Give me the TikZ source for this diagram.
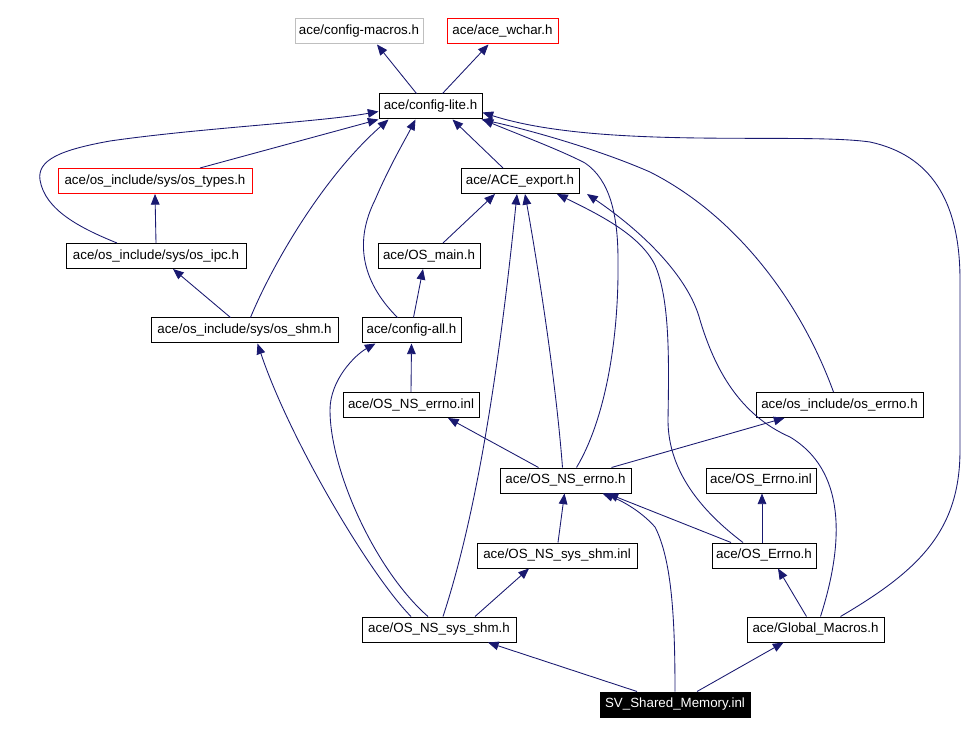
\documentclass[tikz,border=0pt]{standalone}
\usepackage{fontspec}
\setmainfont{Liberation Sans}
\usepackage{xcolor}
\usepackage{tikz}
\usetikzlibrary{arrows.meta,calc}
\definecolor{midblue}{HTML}{191970}
\definecolor{boxgray}{HTML}{BFBFBF}

\begin{document}
\begin{tikzpicture}[x=0.75pt,y=-0.75pt,
    hdr/.style={draw=black, line width=0.75pt, fill=white, rectangle,
        font=\fontsize{10}{12}\selectfont, minimum height=18.75pt, inner xsep=2pt,
        text height=7.4pt, text depth=2.2pt},
    edge/.style={draw=midblue, line width=0.65pt, -{Triangle[length=8pt,width=6.5pt]}}]
\useasboundingbox (0,0) rectangle (979,734);
% TOP ROWS: config headers
\node[hdr, draw=boxgray, minimum width=96pt] (cmacros) at (359,31.5) {ace/config-macros.h};
\node[hdr, draw=red, minimum width=83.25pt] (wchar) at (502.5,31.5) {ace/ace\_wchar.h};
\node[hdr, minimum width=77.25pt] (clite) at (430.5,106.5) {ace/config-lite.h};
\node[hdr, draw=red, minimum width=145.5pt] (ostypes) at (155,181) {ace/os\_include/sys/os\_types.h};
\node[hdr, minimum width=88.5pt] (aceexport) at (520,181) {ace/ACE\_export.h};
\node[hdr, minimum width=135pt] (osipc) at (156,256) {ace/os\_include/sys/os\_ipc.h};
\node[hdr, minimum width=76.5pt] (osmain) at (429,256) {ace/OS\_main.h};
\node[hdr, minimum width=140.25pt] (osshm) at (244.5,330.5) {ace/os\_include/sys/os\_shm.h};
\node[hdr, minimum width=74.25pt] (configall) at (411.5,330.5) {ace/config-all.h};
% MIDDLE ROWS: errno headers
\node[hdr, minimum width=102pt] (nserrnoinl) at (411,405) {ace/OS\_NS\_errno.inl};
\node[hdr, minimum width=125.25pt] (oserrnoh) at (839.5,405) {ace/os\_include/os\_errno.h};
\node[hdr, minimum width=98.25pt] (nserrnoh) at (565.5,480.5) {ace/OS\_NS\_errno.h};
\node[hdr, minimum width=82.5pt] (errnoinl) at (761,480.5) {ace/OS\_Errno.inl};
\node[hdr, minimum width=120pt] (shminl) at (557,555.5) {ace/OS\_NS\_sys\_shm.inl};
\node[hdr, minimum width=78pt] (errnoh) at (764,555.5) {ace/OS\_Errno.h};
% BOTTOM ROWS
\node[hdr, minimum width=115.5pt] (shmh) at (439,629.5) {ace/OS\_NS\_sys\_shm.h};
\node[hdr, minimum width=102.75pt] (globalm) at (815.5,629.5) {ace/Global\_Macros.h};
\node[hdr, fill=black, text=white, minimum width=112.5pt] (sv) at (675,704.5) {SV\_Shared\_Memory.inl};

% edges into config-lite.h and above
\draw[edge] ($(clite.north)+(-14,0)$) -- ($(cmacros.south)+(18,0)$);
\draw[edge] ($(clite.north)+(12,0)$) -- ($(wchar.south)+(-14,0)$);
\draw[edge] ($(ostypes.north)+(45,0)$) -- (clite.south west);
\draw[edge] ($(osipc.north)+(-39,0)$) .. controls (80,228) and (45,210) .. (40,180)
    .. controls (37,160) and (60,150) .. (110,141)
    .. controls (200,128) and (320,122) .. ($(clite.west)+(0,5)$);
\draw[edge] (osipc.north) -- (ostypes.south);
\draw[edge] ($(osshm.north)+(-14,0)$) -- ($(osipc.south)+(17,0)$);
\draw[edge] ($(osshm.north)+(6,0)$) .. controls (270,270) and (320,180) .. ($(clite.south west)+(10,0)$);
\draw[edge] ($(configall.north)+(-14,0)$) .. controls (360,280) and (355,240) .. (375,200)
    .. controls (390,165) and (405,140) .. ($(clite.south)+(-15,0)$);
\draw[edge] ($(configall.north)+(2,0)$) -- ($(osmain.south)+(-6,0)$);
\draw[edge] ($(aceexport.north)+(-17,0)$) -- ($(clite.south)+(22,0)$);
\draw[edge] ($(osmain.north)+(14,0)$) -- ($(aceexport.south)+(-25,0)$);
\draw[edge] (nserrnoinl.north) -- (configall.south);
% edges from OS_NS_sys_shm.h
\draw[edge] ($(shmh.north)+(-11,0)$) .. controls (375,570) and (330,470) .. (330,410)
    .. controls (330,380) and (355,355) .. ($(configall.south)+(-36,0)$);
\draw[edge] ($(shmh.north)+(-28,0)$) .. controls (370,575) and (290,440) .. ($(osshm.south)+(13,0)$);
\draw[edge] ($(shmh.north)+(4,0)$) .. controls (478,510) and (500,360) .. ($(aceexport.south)+(-3,0)$);
\draw[edge] ($(shmh.north)+(36,0)$) -- ($(shminl.south)+(-28,0)$);
\draw[edge] ($(shminl.north)+(1,0)$) -- ($(nserrnoh.south)+(-1,0)$);
% edges from OS_NS_errno.h
\draw[edge] ($(nserrnoh.north)+(-3,0)$) .. controls (555,370) and (535,250) .. ($(aceexport.south)+(5,0)$);
\draw[edge] ($(nserrnoh.north)+(11,0)$) .. controls (605,420) and (619,340) .. (618,260)
    .. controls (618,215) and (610,180) .. (585,163)
    .. controls (560,150) and (520,135) .. (clite.south east);
\draw[edge] ($(nserrnoh.north)+(-27,0)$) -- ($(nserrnoinl.south)+(37,0)$);
\draw[edge] ($(nserrnoh.north)+(46,0)$) -- ($(oserrnoh.south)+(-55,0)$);
\draw[edge] ($(oserrnoh.north)+(-6,0)$) .. controls (800,300) and (735,215) .. (650,172)
    .. controls (600,150) and (530,130) .. ($(clite.south east)+(-1,0)$);
% edges from OS_Errno.h
\draw[edge] ($(errnoh.north)+(-33,0)$) -- ($(nserrnoh.south)+(42,0)$);
\draw[edge] ($(errnoh.north)+(-2,0)$) -- ($(errnoinl.south)+(1,0)$);
\draw[edge] ($(errnoh.north)+(-21,0)$) .. controls (700,510) and (668,470) .. (668,420)
    .. controls (669,360) and (670,300) .. (655,265)
    .. controls (640,235) and (600,215) .. ($(aceexport.south)+(37,0)$);
% edges from Global_Macros.h
\draw[edge] ($(globalm.north)+(-9,0)$) -- ($(errnoh.south)+(14,0)$);
\draw[edge] ($(globalm.north)+(5,0)$) .. controls (845,540) and (845,470) .. (790,437)
    .. controls (740,415) and (715,370) .. (700,320)
    .. controls (688,275) and (640,230) .. ($(aceexport.south)+(67,0)$);
\draw[edge] ($(globalm.north)+(25,0)$) .. controls (920,570) and (960,530) .. (960,450)
    -- (960,280) .. controls (960,200) and (930,155) .. (870,142)
    .. controls (800,132) and (600,150) .. ($(clite.east)+(0,6)$);
% edges from SV_Shared_Memory.inl
\draw[edge] ($(sv.north)+(-38,0)$) -- ($(shmh.south)+(49,0)$);
\draw[edge] (sv.north) .. controls (675,620) and (672,560) .. (655,527)
    .. controls (640,510) and (620,500) .. ($(nserrnoh.south)+(37,0)$);
\draw[edge] ($(sv.north)+(22,0)$) -- ($(globalm.south)+(-32,0)$);
\end{tikzpicture}
\end{document}
